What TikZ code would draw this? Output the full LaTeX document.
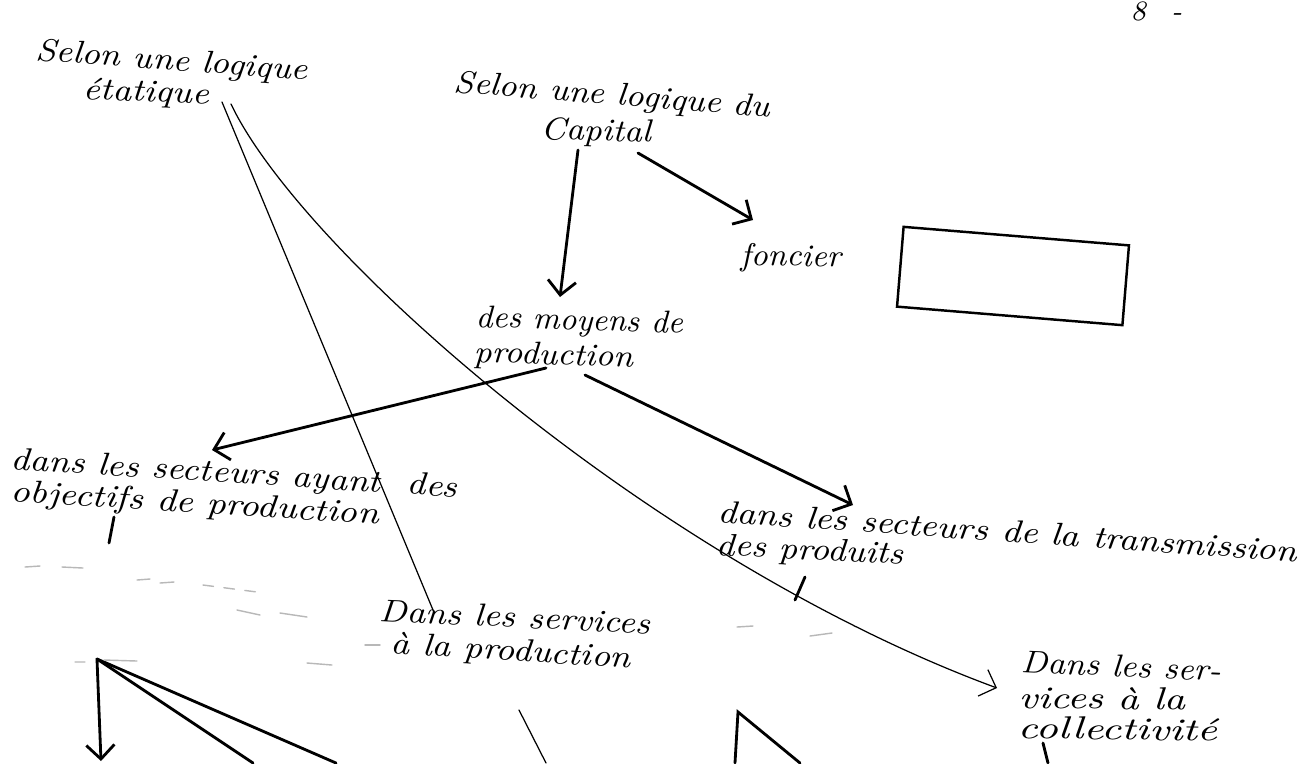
\documentclass[tikz,border=0pt]{standalone}
\usetikzlibrary{arrows.meta}
\newcommand{\hw}[2]{\resizebox{#1}{\height}{#2}}
\begin{document}
\begin{tikzpicture}[x=0.01cm,y=-0.01cm,
  hw/.style={inner sep=0pt, anchor=base west, font=\fontsize{9}{11}\selectfont\itshape},
  thickline/.style={line width=0.8pt, line cap=round},
  thinline/.style={line width=0.35pt, line cap=round},
  tip/.style={-{Straight Barb[length=4pt,width=8pt]}},
  noise/.style={line width=0.4pt, black!28, line cap=round}]
\useasboundingbox[fill=white] (0,0) rectangle (1303,763);

% texts
\node[hw, rotate=-4.2] (etatA) at (35,60) {\hw{2.72cm}{Selon une logique}};
\node[hw, rotate=-2.3] (etatB) at (82,99) {\hw{1.26cm}{étatique}};
\node[hw, rotate=-4.5] (capA) at (453,92) {\hw{3.17cm}{Selon une logique du}};
\node[hw, rotate=-1.6] (capB) at (540,139) {\hw{1.10cm}{Capital}};
\node[inner sep=0pt, anchor=base west, font=\fontsize{8}{10}\selectfont\itshape] (page) at (1130,20) {8\hspace{0.9em}-};
\node[hw, rotate=-1] (fonc) at (740,265) {\hw{1.00cm}{foncier}};
\node[draw, line width=0.7pt, rotate=-4.7, minimum width=2.26cm, minimum height=0.80cm, inner sep=0pt] (box) at (1013,276) {};
\node[hw, rotate=-1.7] (moyA) at (475,327) {\hw{2.07cm}{des moyens de}};
\node[hw, rotate=-1.8] (moyB) at (473,362) {\hw{1.59cm}{production}};
\node[hw, rotate=-3.6] (prodA) at (10,469) {\hw{4.47cm}{dans les secteurs ayant\ \ des}};
\node[hw, rotate=-3.6] (prodB) at (10,501) {\hw{3.68cm}{objectifs de production}};
\node[hw, rotate=-3.9] (transA) at (717,522) {\hw{5.80cm}{dans les secteurs de la transmission}};
\node[hw, rotate=-2.8] (transB) at (715,555) {\hw{1.87cm}{des produits}};
\node[hw, rotate=-2.7] (servA) at (378,621) {\hw{2.71cm}{Dans les services}};
\node[hw, rotate=-3.6] (servB) at (390,653) {\hw{2.40cm}{à la production}};
\node[hw, rotate=-2.6] (collA) at (1020,672) {\hw{2.00cm}{Dans les ser-}};
\node[hw, rotate=-0.7] (collB) at (1018,708) {\hw{1.66cm}{vices à la}};
\node[hw, rotate=-0.9] (collC) at (1017,738) {\hw{1.99cm}{collectivité}};

% connector ends
\coordinate (etS1) at (222,102);
\coordinate (etS2) at (231,104);
\coordinate (servT) at (433,610);
\coordinate (collT) at (997,688);
\coordinate (capS1) at (578,150);
\coordinate (capS2) at (638,153);
\coordinate (moyT) at (560,297);
\coordinate (foncT) at (753,220);
\coordinate (moyS1) at (546,368);
\coordinate (moyS2) at (585,375);
\coordinate (prodT) at (212,450);
\coordinate (transT) at (853,505);
\coordinate (tickA1) at (114,517);
\coordinate (tickA2) at (109,543);
\coordinate (tickB1) at (805,577);
\coordinate (tickB2) at (795,600);
\coordinate (vL) at (97,659);
\coordinate (bL1) at (101,761);
\coordinate (bL2) at (253,763);
\coordinate (bL3) at (336,763);
\coordinate (vM) at (738,712);
\coordinate (bM1) at (735,763);
\coordinate (bM2) at (800,763);
\coordinate (cS) at (1043,743);
\coordinate (cE) at (1048,763);
\coordinate (pS) at (519,710);
\coordinate (pE) at (546,763);

% connectors
\draw[thinline] (etS1) -- (servT);
\draw[thinline, tip] (etS2) .. controls (300,250) and (650,560) .. (collT);
\draw[thickline, tip] (capS1) -- (moyT);
\draw[thickline, tip] (capS2) -- (foncT);
\draw[thickline, tip] (moyS1) -- (prodT);
\draw[thickline, tip] (moyS2) -- (transT);
\draw[thickline] (tickA1) -- (tickA2);
\draw[thickline] (tickB1) -- (tickB2);
\draw[thickline, tip] (vL) -- (bL1);
\draw[thickline] (vL) -- (bL2);
\draw[thickline] (vL) -- (bL3);
\draw[thickline] (bM1) -- (vM) -- (bM2);
\draw[thickline] (cS) -- (cE);
\draw[thinline] (pS) -- (pE);

% faint scan remnants
\draw[noise] (25,567) -- (40,566) (62,567) -- (83,568);
\draw[noise] (137,580) -- (150,579) (160,583) -- (174,582);
\draw[noise, dashed] (203,585) -- (257,592);
\draw[noise] (237,610) -- (260,615) (280,613) -- (307,617);
\draw[noise] (75,662) -- (85,662) (104,660) -- (137,661);
\draw[noise] (307,663) -- (332,665);
\draw[noise] (365,645) -- (380,645);
\draw[noise] (737,627) -- (753,626) (810,636) -- (832,633);
\end{tikzpicture}
\end{document}
